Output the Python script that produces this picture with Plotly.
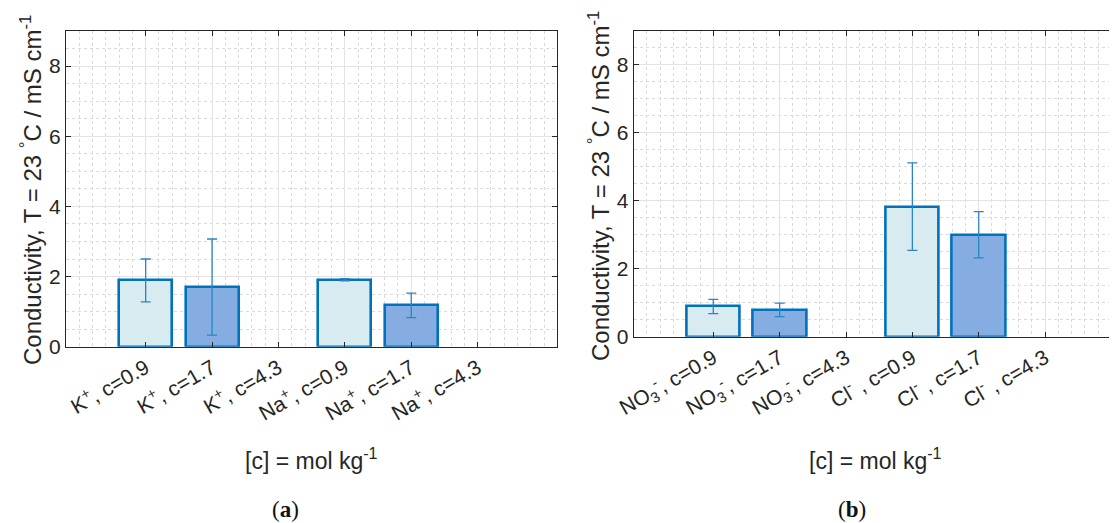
import plotly.graph_objects as go

# ---------------- data ----------------
x_pos = [1, 2, 3, 4, 5, 6]
labels_a = ["K<sup>+</sup>, c=0.9", "K<sup>+</sup>, c=1.7", "K<sup>+</sup>, c=4.3",
            "Na<sup>+</sup>, c=0.9", "Na<sup>+</sup>, c=1.7", "Na<sup>+</sup>, c=4.3"]
labels_b = ["NO<sub>3</sub><sup>-</sup>, c=0.9", "NO<sub>3</sub><sup>-</sup>, c=1.7",
            "NO<sub>3</sub><sup>-</sup>, c=4.3",
            "Cl<sup>-</sup> , c=0.9", "Cl<sup>-</sup> , c=1.7", "Cl<sup>-</sup> , c=4.3"]
values_a = [1.89, 1.70, None, 1.91, 1.18, None]
errors_a = [0.61, 1.37, None, 0.03, 0.35, None]
values_b = [0.89, 0.79, None, 3.83, 3.00, None]
errors_b = [0.21, 0.20, None, 1.29, 0.68, None]

y_title = "Conductivity, T = 23 <sup>°</sup>C / mS cm<sup>-1</sup>"
x_title = "[c] = mol kg<sup>-1</sup>"

# ---------------- style ----------------
LIGHT = "#d7ebf1"
DARK = "#86ade1"
EDGE = "#0072bd"
ERR = "#2a84c6"
fill = [LIGHT, DARK, LIGHT, LIGHT, DARK, LIGHT]
OFF = 8                      # default page body margin
W, H = 1117 - OFF, 523 - OFF
FONT = "Liberation Sans, Arial, Helvetica, sans-serif"
AX = "#262626"

fig = go.Figure()
for vals, errs, xa, ya in [(values_a, errors_a, "x", "y"), (values_b, errors_b, "x2", "y2")]:
    fig.add_trace(go.Bar(
        x=x_pos, y=vals, width=0.8, xaxis=xa, yaxis=ya,
        marker=dict(color=fill, line=dict(color=EDGE, width=2.6)),
        error_y=dict(type="data", array=errs, visible=True, color=ERR,
                     thickness=1.3, width=5),
        showlegend=False,
    ))

def px_x(p):
    return (p - OFF) / W

def px_y(p):
    return (H - (p - OFF)) / H

common_x = dict(
    range=[-0.2, 7.2], tickmode="array", tickvals=x_pos, tickangle=-30,
    showline=True, linecolor=AX, linewidth=1, mirror="ticks",
    ticks="inside", ticklen=5, tickcolor=AX, automargin=False,
    showgrid=True, gridcolor="#e3e3e3", gridwidth=1,
    minor=dict(dtick=0.2, tick0=0, showgrid=True, gridcolor="#dadada",
               griddash="dot", gridwidth=1, ticks=""),
    tickfont=dict(family=FONT, size=21, color=AX), zeroline=False,
)
common_y = dict(
    range=[0, 9], dtick=2, tick0=0,
    showline=True, linecolor=AX, linewidth=1, mirror="ticks",
    ticks="inside", ticklen=5, tickcolor=AX, automargin=False,
    showgrid=True, gridcolor="#e3e3e3", gridwidth=1,
    minor=dict(dtick=0.5, tick0=0, showgrid=True, gridcolor="#dadada",
               griddash="dot", gridwidth=1, ticks=""),
    tickfont=dict(family=FONT, size=21, color=AX), zeroline=False,
)

xa1 = dict(common_x, domain=[px_x(66), px_x(557.3)], ticktext=labels_a, anchor="y")
xa2 = dict(common_x, domain=[px_x(633.7), 1.0], ticktext=labels_b, anchor="y2",
           range=[-0.2, -0.2 + (1117 - 633.7) / 66.35])
ya1 = dict(common_y, domain=[px_y(346.7), px_y(31)], anchor="x")
ya2 = dict(common_y, domain=[px_y(336.7), px_y(31)], anchor="x2")

fig.update_layout(
    width=W, height=H, margin=dict(l=0, r=0, t=0, b=0, pad=0, autoexpand=False),
    paper_bgcolor="white", plot_bgcolor="white",
    xaxis=xa1, xaxis2=xa2, yaxis=ya1, yaxis2=ya2,
    bargap=0, font=dict(family=FONT, color=AX),
)

ann = []
for xc, yc in [(31, 190), (599, 186)]:
    ann.append(dict(text=y_title, x=px_x(xc), y=px_y(yc), xref="paper", yref="paper",
                    textangle=-90, showarrow=False, xanchor="center", yanchor="middle",
                    font=dict(family=FONT, size=24, color=AX)))
for xc in [311, 875]:
    ann.append(dict(text=x_title, x=px_x(xc), y=px_y(459), xref="paper", yref="paper",
                    showarrow=False, xanchor="center", yanchor="middle",
                    font=dict(family=FONT, size=23, color=AX)))
for xc, lab in [(285, "(<b>a</b>)"), (852, "(<b>b</b>)")]:
    ann.append(dict(text=lab, x=px_x(xc), y=px_y(509), xref="paper", yref="paper",
                    showarrow=False, xanchor="center", yanchor="middle",
                    font=dict(family="Liberation Serif, DejaVu Serif, serif", size=23,
                              color="#111111")))
fig.update_layout(annotations=ann)

fig.write_html("out.html")
